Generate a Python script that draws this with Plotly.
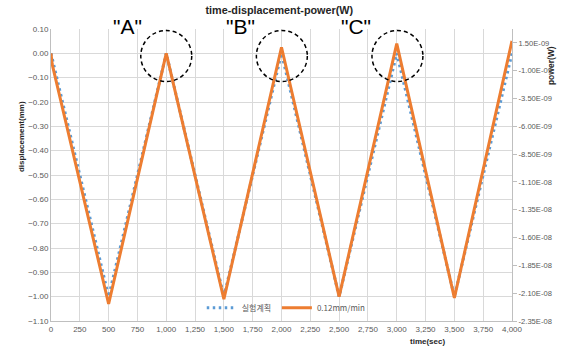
import plotly.graph_objects as go

# ---- data ----
time_sec = [0, 500, 1000, 1500, 2000, 2500, 3000, 3500, 4000]
plan_disp_mm = [0.0, -1.0, 0.0, -1.0, 0.0, -1.0, 0.0, -1.0, 0.0]          # 실험계획
power_time = [0, 10, 500, 1000, 1500, 2000, 2500, 3000, 3500, 4000]
power_w = [0.56e-9, -0.40e-9, -21.97e-9, 0.56e-9, -21.53e-9, 1.11e-9, -21.31e-9,
           1.44e-9, -21.42e-9, 1.68e-9]                                   # 0.12mm/min

x_ticks = [0, 250, 500, 750, 1000, 1250, 1500, 1750, 2000, 2250, 2500,
           2750, 3000, 3250, 3500, 3750, 4000]
y_ticks = [0.10, 0.00, -0.10, -0.20, -0.30, -0.40, -0.50, -0.60, -0.70,
           -0.80, -0.90, -1.00, -1.10]
y2_tickvals = [1.5e-9, -1.0e-9, -3.5e-9, -6.0e-9, -8.5e-9, -1.1e-8,
               -1.35e-8, -1.6e-8, -1.85e-8, -2.1e-8, -2.35e-8]
y2_ticktext = ["1.50E-09", "-1.00E-09", "-3.50E-09", "-6.00E-09", "-8.50E-09",
               "-1.10E-08", "-1.35E-08", "-1.60E-08", "-1.85E-08", "-2.10E-08",
               "-2.35E-08"]
labels = ['"A"', '"B"', '"C"']
label_x = [665, 1640, 2650]
circle_centers = [1000, 2003, 3006]

FONT = "Liberation Sans, Arial, sans-serif"
GRID = "#D9D9D9"
TICKC = "#595959"
LEGFONT = dict(family="Noto Sans CJK KR, " + FONT, size=8, color=TICKC)

fig = go.Figure()
fig.add_trace(go.Scatter(
    x=time_sec, y=plan_disp_mm, name="실험계획", mode="lines", legend="legend",
    line=dict(color="#5B9BD5", width=3, dash="2.5px,3.5px"),
))
fig.add_trace(go.Scatter(
    x=power_time, y=power_w, name="0.12mm/min", mode="lines", yaxis="y2",
    legend="legend2",
    line=dict(color="#ED7D31", width=3),
))

fig.update_layout(
    width=570, height=355,
    margin=dict(l=51, r=58, t=29, b=34),
    paper_bgcolor="white", plot_bgcolor="white",
    font=dict(family=FONT, size=8, color=TICKC),
    title=dict(text="<b>time-displacement-power(W)</b>", x=0.49, xanchor="center",
               y=0.972, yanchor="middle",
               font=dict(family=FONT, size=10.8, color="#262626")),
    xaxis=dict(range=[0, 4000], tickvals=x_ticks, tickformat=",",
               showgrid=True, gridcolor=GRID, gridwidth=1,
               showline=True, linecolor="#BFBFBF", linewidth=1,
               ticks="", zeroline=False,
               tickfont=dict(size=8, color=TICKC)),
    yaxis=dict(range=[-1.10, 0.10], tickvals=y_ticks, tickformat=".2f",
               showgrid=True, gridcolor=GRID, gridwidth=1,
               showline=True, linecolor="#BFBFBF", linewidth=1,
               ticks="", zeroline=False,
               tickfont=dict(size=8, color=TICKC)),
    yaxis2=dict(range=[-2.35e-8, 2.75e-9], overlaying="y", side="right",
                tickvals=y2_tickvals, ticktext=y2_ticktext,
                showgrid=False, zeroline=False,
                showline=True, linecolor="#BFBFBF", linewidth=1,
                ticks="outside", ticklen=4, tickcolor="#BFBFBF",
                tickfont=dict(size=7.6, color=TICKC)),
    legend=dict(orientation="h", x=0.327, y=0.045, xanchor="left", yanchor="middle",
                bgcolor="rgba(255,255,255,0)", font=LEGFONT, itemwidth=30),
    legend2=dict(orientation="h", x=0.49, y=0.045, xanchor="left", yanchor="middle",
                 bgcolor="rgba(255,255,255,0)", font=LEGFONT, itemwidth=30),
    showlegend=True,
)

# axis titles as annotations
fig.add_annotation(text="<b>displacement(mm)</b>", xref="paper", yref="paper",
                   x=-0.078, y=0.76, textangle=-90, showarrow=False,
                   font=dict(family=FONT, size=8, color="#262626"))
fig.add_annotation(text="<b>power(W)</b>", xref="paper", yref="paper",
                   x=1.10, y=0.947, textangle=-90, showarrow=False,
                   font=dict(family=FONT, size=8.5, color="#262626"))
fig.add_annotation(text="<b>time(sec)</b>", xref="paper", yref="paper",
                   x=0.858, y=-0.092, showarrow=False,
                   font=dict(family=FONT, size=8, color="#262626"))

for t, lx in zip(labels, label_x):
    fig.add_annotation(text=t, x=lx, xref="x", y=1.01, yref="paper",
                       yanchor="middle", showarrow=False,
                       font=dict(family=FONT, size=21, color="black"))

for cx in circle_centers:
    fig.add_shape(type="circle", xref="x", yref="y",
                  x0=cx - 221, x1=cx + 221, y0=-0.116, y1=0.094,
                  line=dict(color="black", width=1.5, dash="4px,3px"))

fig.write_html("out.html",
               config={"displayModeBar": False},
               post_script="document.body.style.margin='0';"
                           "document.body.style.overflow='hidden';")
